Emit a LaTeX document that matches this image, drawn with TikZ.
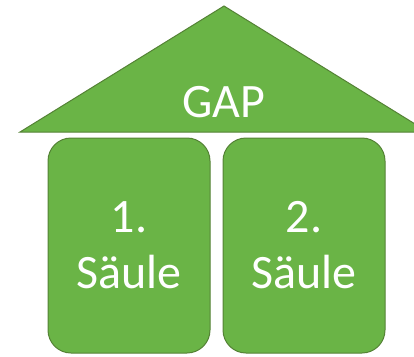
\documentclass[tikz,border=0pt]{standalone}
\usepackage{fontspec}
\setmainfont{Carlito}
\definecolor{gfill}{HTML}{6AB446}
\definecolor{gline}{HTML}{548235}
\begin{document}
\begin{tikzpicture}[x=1pt,y=-1pt,
  shapestyle/.style={fill=gfill,draw=gline,line width=1pt},
  pillar/.style={shapestyle,rounded corners=23pt},
  lbl/.style={text=white,font=\fontsize{48}{56}\selectfont,align=center}]
\useasboundingbox (0,0) rectangle (414,356);
\begin{scope}
\clip (0,0) rectangle (414,356);
\draw[shapestyle,line join=miter] (224,6) -- (428,132) -- (20,132) -- cycle;
\end{scope}
\node[lbl,anchor=base] (gap) at (224,117) {GAP};
\draw[pillar] (48,138) rectangle (210,353);
\draw[pillar] (223,138) rectangle (385,353);
\node[lbl,anchor=base] (s1a) at (129,232) {1.};
\node[lbl,anchor=base] (s1b) at (129,288) {Säule};
\node[lbl,anchor=base] (s2a) at (304,232) {2.};
\node[lbl,anchor=base] (s2b) at (304,288) {Säule};
\end{tikzpicture}
\end{document}
